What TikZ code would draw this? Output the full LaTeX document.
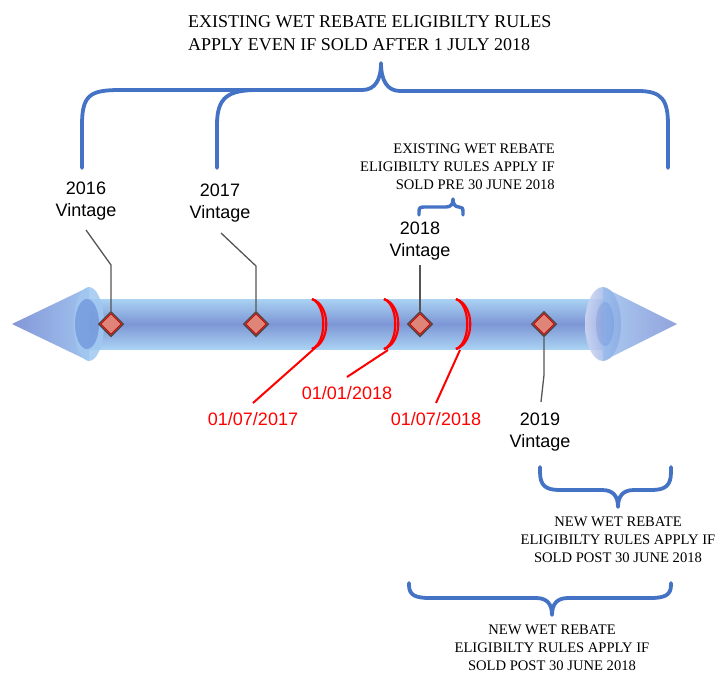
\documentclass[tikz,border=0pt]{standalone}
\usepackage{fontspec}
\setmainfont{Liberation Serif}
\newfontfamily\arialf{Liberation Sans}
\usetikzlibrary{shapes.geometric}
\definecolor{bracecol}{RGB}{68,114,196}
\definecolor{shaftlight}{RGB}{170,210,243}
\definecolor{shaftmid}{RGB}{125,150,213}
\definecolor{conetip}{RGB}{118,140,212}
\definecolor{conebase}{RGB}{150,188,236}
\definecolor{ringlight}{RGB}{160,200,240}
\definecolor{ringdark}{RGB}{88,124,210}
\definecolor{dfill}{RGB}{222,132,120}
\definecolor{dline}{RGB}{80,70,70}
\definecolor{connc}{RGB}{85,85,85}
\definecolor{datered}{RGB}{255,0,0}
\tikzset{
  brace/.style={draw=bracecol, line width=3.8pt, line cap=round, line join=round},
  conn/.style={draw=connc, line width=1.3pt},
  redline/.style={draw=datered, line width=2pt},
  redarc/.style={draw=datered, line width=2.2pt},
  dia/.style={shape=diamond, draw=dline, fill=dfill, line width=1.5pt, minimum width=25pt, minimum height=25pt, inner sep=0pt},
  diain/.style={shape=diamond, draw=red!80!black, line width=0.9pt, minimum width=21pt, minimum height=21pt, inner sep=0pt},
  vlab/.style={font=\arialf\fontsize{18}{22}\selectfont, align=center, inner sep=0pt},
  datelab/.style={font=\arialf\fontsize{18}{22}\selectfont, text=datered, inner sep=0pt},
  bigtxt/.style={font=\fontsize{18}{23}\selectfont, align=left, inner sep=0pt},
  smalltxt/.style={font=\fontsize{14.6}{18}\selectfont, inner sep=0pt}
}
\begin{document}
\begin{tikzpicture}[x=1pt,y=-1pt]
\useasboundingbox (0,0) rectangle (720,673);

% ---- shaft ----
\shade[top color=shaftlight, bottom color=shaftlight, middle color=shaftmid] (89,299) rectangle (603,349);

% ---- left cone ----
\shade[left color=conetip, right color=conebase, opacity=0.9] (12,324) -- (89,287) -- (89,361) -- cycle;
\fill[ringlight, opacity=0.85] (89,324) ellipse [x radius=15, y radius=37];
\fill[ringdark, opacity=0.5] (87,324) ellipse [x radius=12, y radius=25];

% ---- right cone ----
\shade[left color={rgb,255:red,210;green,216;blue,242}, right color={rgb,255:red,125;green,155;blue,222}, opacity=0.85] (603,324) ellipse [x radius=18, y radius=37];
\shade[left color=conebase, right color=conetip, opacity=0.8] (603,287) -- (677,324) -- (603,361) -- cycle;
\fill[ringdark, opacity=0.25] (605,324) ellipse [x radius=9, y radius=22];

% ---- red date brackets ----
\foreach \bx in {312,384,456}{
  \draw[redarc] (\bx,299) .. controls (\bx+15,305) and (\bx+15,343) .. (\bx,349);
  \draw[redarc] (\bx,299) .. controls (\bx+19,305) and (\bx+19,343) .. (\bx,349);
}

% ---- diamonds ----
\node[dia] (d16) at (111,324) {};
\node[diain] at (111,324) {};
\node[dia] (d17) at (256,324) {};
\node[diain] at (256,324) {};
\node[dia] (d18) at (420,324) {};
\node[diain] at (420,324) {};
\node[dia] (d19) at (544,324) {};
\node[diain] at (544,324) {};

% ---- vintage labels and connectors ----
\node[vlab] (v16) at (86,201) {2016\\Vintage};
\node[vlab] (v17) at (220,203) {2017\\Vintage};
\node[vlab] (v18) at (420,241) {2018\\Vintage};
\node[vlab] (v19) at (540,432) {2019\\Vintage};
\coordinate (s16) at (86,230);
\coordinate (k16) at (111,265);
\coordinate (s17) at (221,233);
\coordinate (k17) at (256,266);
\coordinate (s18) at (420,265);
\coordinate (k19) at (544,375);
\coordinate (s19) at (541,402);
\draw[conn] (s16) -- (k16) -- (d16.north);
\draw[conn] (s17) -- (k17) -- (d17.north);
\draw[conn] (s18) -- (d18.north);
\draw[conn] (d19.south) -- (k19) -- (s19);

% ---- date labels and connectors ----
\node[datelab] (t1) at (253,419) {01/07/2017};
\node[datelab] (t2) at (347,393) {01/01/2018};
\node[datelab] (t3) at (436,419) {01/07/2018};
\coordinate (b1) at (315,348);
\coordinate (b2) at (388,350);
\coordinate (b3) at (460,350);
\coordinate (e1) at (253,403);
\coordinate (e2) at (347,377);
\coordinate (e3) at (436,403);
\draw[redline] (b1) -- (e1);
\draw[redline] (b2) -- (e2);
\draw[redline] (b3) -- (e3);

% ---- top brace ----
\draw[brace] (82,168) -- (82,125) .. controls (82,95) and (90,90) .. (120,90) -- (362,90)
  .. controls (375,90) and (381,80) .. (381,63)
  .. controls (381,80) and (387,91) .. (400,91) -- (638,91)
  .. controls (662,91) and (668,100) .. (668,125) -- (668,168);
\draw[brace] (217,168) -- (217,125) .. controls (217,97) and (228,90) .. (258,90);
\node[bigtxt, anchor=west] (toptxt) at (188,33.5) {EXISTING WET REBATE ELIGIBILTY RULES\\APPLY EVEN IF SOLD AFTER 1 JULY 2018};

% ---- small brace above 2018 ----
\draw[brace, line width=3.4pt] (419,215) -- (419,212) .. controls (419,208) and (420,207) .. (424,207) -- (446,207)
  .. controls (451,207) and (453,204) .. (453,199)
  .. controls (453,204) and (455,207) .. (459,207)
  .. controls (462,207) and (463,208) .. (463,212) -- (463,215);
\node[smalltxt, align=right, anchor=east] (pretxt) at (555,167) {EXISTING WET REBATE\\ELIGIBILTY RULES APPLY IF\\SOLD PRE 30 JUNE 2018};

% ---- bottom brace 1 ----
\draw[brace] (540,467) -- (540,472) .. controls (540,486) and (546,490) .. (560,490) -- (602,490)
  .. controls (613,490) and (618,496) .. (618,507)
  .. controls (618,496) and (623,490) .. (634,490) -- (651,490)
  .. controls (665,490) and (671,486) .. (671,472) -- (671,467);
\node[smalltxt, align=center] (post1) at (618,540) {NEW WET REBATE\\ELIGIBILTY RULES APPLY IF\\SOLD POST 30 JUNE 2018};

% ---- bottom brace 2 ----
\draw[brace] (409,583) -- (409,585) .. controls (409,595) and (415,598) .. (430,598) -- (536,598)
  .. controls (547,598) and (552,604) .. (552,615)
  .. controls (552,604) and (557,598) .. (568,598) -- (650,598)
  .. controls (665,598) and (671,595) .. (671,585) -- (671,583);
\node[smalltxt, align=center] (post2) at (552,648) {NEW WET REBATE\\ELIGIBILTY RULES APPLY IF\\SOLD POST 30 JUNE 2018};
\end{tikzpicture}
\end{document}
